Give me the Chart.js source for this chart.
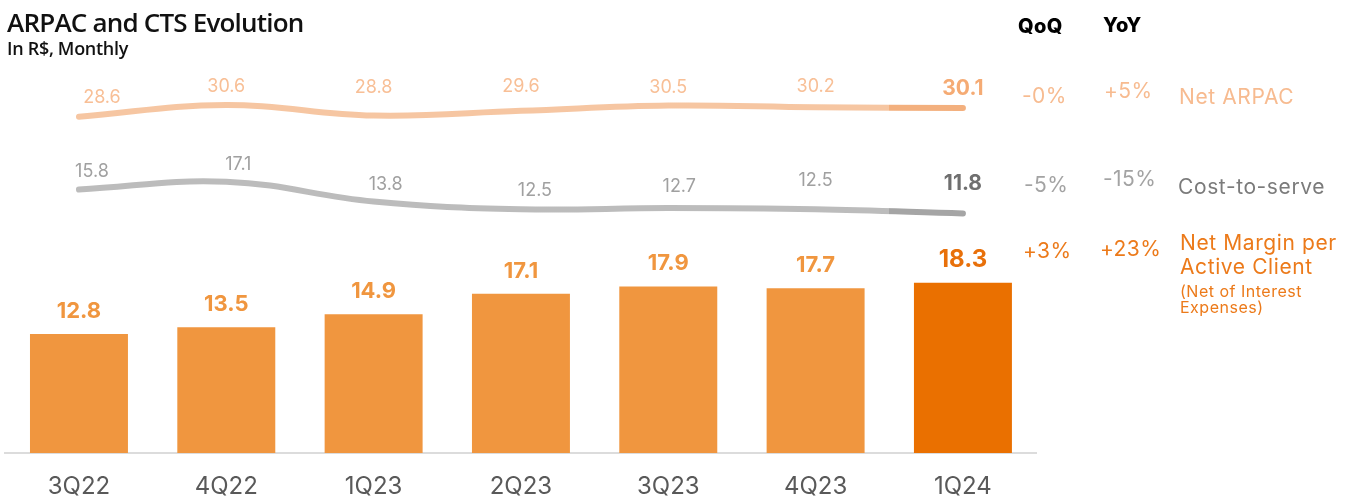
<!DOCTYPE html>
<html>
<head>
<meta charset="utf-8">
<title>ARPAC and CTS Evolution</title>
<script src="https://cdn.jsdelivr.net/npm/chart.js@4.4.1/dist/chart.umd.min.js"></script>
<style>
  body { margin: 0; background: #fff; }
  #wrap { position: relative; width: 1349px; height: 496px; overflow: hidden; font-family: Inter, "Noto Sans", sans-serif; }
  #wrap canvas { position: absolute; left: 0; top: 0; }
  .t { position: absolute; white-space: nowrap; line-height: 1; }
  .title { font-family: "Open Sans", sans-serif; font-weight: 600; font-size: 26px; color: #111; letter-spacing: -0.8px; }
  .sub { font-family: "Open Sans", sans-serif; font-weight: 600; font-size: 18px; color: #111; letter-spacing: -0.3px; }
  .head { font-weight: 800; font-size: 20px; color: #000; letter-spacing: 0.4px; }
  .pct { font-size: 21px; letter-spacing: 0.4px; }
  .name { font-size: 21px; letter-spacing: 0.6px; }
  .note { font-size: 16px; letter-spacing: 0.5px; }
  .arpac { color: #f7bb90; }
  .cts { color: #a3a3a3; }
  .ctsName { color: #7b7b7b; }
  .margin { color: #ec7a1a; }
</style>
</head>
<body>
<div id="wrap">
  <canvas id="evolutionChart"></canvas>
  <div class="t title" style="left:7px; top:9px;">ARPAC and CTS Evolution</div>
  <div class="t sub" style="left:7px; top:39px;">In R$, Monthly</div>

  <div class="t head" style="left:1018px; top:16px;">QoQ</div>
  <div class="t head" style="left:1103px; top:15px;">YoY</div>

  <div class="t pct arpac" style="left:1022px; top:85px;">-0%</div>
  <div class="t pct arpac" style="left:1104px; top:80px;">+5%</div>
  <div class="t name arpac" style="left:1179px; top:86px;">Net ARPAC</div>

  <div class="t pct cts" style="left:1024px; top:174px;">-5%</div>
  <div class="t pct cts" style="left:1103px; top:168px;">-15%</div>
  <div class="t name ctsName" style="left:1178px; top:176px;">Cost-to-serve</div>

  <div class="t pct margin" style="left:1023px; top:240px;">+3%</div>
  <div class="t pct margin" style="left:1100px; top:238px;">+23%</div>
  <div class="t name margin" style="left:1180px; top:232px;">Net Margin per</div>
  <div class="t name margin" style="left:1180px; top:256px;">Active Client</div>
  <div class="t note margin" style="left:1180px; top:283px;">(Net of Interest</div>
  <div class="t note margin" style="left:1180px; top:299px;">Expenses)</div>
</div>

<script>
const quarters = ["3Q22", "4Q22", "1Q23", "2Q23", "3Q23", "4Q23", "1Q24"];
const netMargin = [12.8, 13.5, 14.9, 17.1, 17.9, 17.7, 18.3];
const netArpac = [28.6, 30.6, 28.8, 29.6, 30.5, 30.2, 30.1];
const costToServe = [15.8, 17.1, 13.8, 12.5, 12.7, 12.5, 11.8];

// label nudges [dx, dy] relative to each line point
const arpacLabelShift = [[23, -14], [0, -13], [0, -23], [0, -19], [0, -13], [0, -15], [0, -13]];
const ctsLabelShift = [[13, -13], [12, -12], [12, -12], [14, -13], [11, -16], [0, -23], [0, -24]];

const last = quarters.length - 1;

// line gets a darker tint on the second half of the last segment
function splitColor(light, dark) {
  return function (c) {
    const chart = c.chart;
    if (!chart.chartArea) return light;
    const x = chart.scales.x;
    const mid = (x.getPixelForValue(last - 1) + x.getPixelForValue(last)) / 2;
    const g = chart.ctx.createLinearGradient(x.left, 0, x.right, 0);
    const f = (mid - x.left) / (x.right - x.left);
    g.addColorStop(0, light);
    g.addColorStop(f, light);
    g.addColorStop(f, dark);
    g.addColorStop(1, dark);
    return g;
  };
}

const valueLabels = {
  id: "valueLabels",
  afterDatasetsDraw(chart) {
    const ctx = chart.ctx;
    ctx.save();
    ctx.textAlign = "center";
    ctx.textBaseline = "alphabetic";

    chart.getDatasetMeta(2).data.forEach((bar, i) => {
      const isLast = i === last;
      ctx.font = (isLast ? "700 24px " : "700 22px ") + "Inter";
      ctx.fillStyle = isLast ? "#e8700a" : "#f0963f";
      ctx.fillText(netMargin[i].toFixed(1), bar.x, bar.y - 16);
    });

    chart.getDatasetMeta(0).data.forEach((pt, i) => {
      const isLast = i === last;
      ctx.font = isLast ? "700 21px Inter" : "400 18px Inter";
      ctx.fillStyle = isLast ? "#f5ab74" : "#f8bf96";
      ctx.fillText(netArpac[i].toFixed(1), pt.x + arpacLabelShift[i][0], pt.y + arpacLabelShift[i][1]);
    });

    chart.getDatasetMeta(1).data.forEach((pt, i) => {
      const isLast = i === last;
      ctx.font = isLast ? "700 21px Inter" : "400 18px Inter";
      ctx.fillStyle = isLast ? "#6f6f6f" : "#a0a0a0";
      ctx.fillText(costToServe[i].toFixed(1), pt.x + ctsLabelShift[i][0], pt.y + ctsLabelShift[i][1]);
    });
    ctx.restore();
  }
};

const chart = new Chart(document.getElementById("evolutionChart"), {
  type: "bar",
  data: {
    labels: quarters,
    datasets: [
      {
        type: "line",
        label: "Net ARPAC",
        data: netArpac,
        yAxisID: "yArpac",
        borderColor: splitColor("#f6c6a2", "#f3b07e"),
        borderWidth: 6,
        borderCapStyle: "round",
        tension: 0.4,
        pointRadius: 0,
        fill: false,
      },
      {
        type: "line",
        label: "Cost-to-serve",
        data: costToServe,
        yAxisID: "yCts",
        borderColor: splitColor("#bcbcbc", "#a5a5a5"),
        borderWidth: 6,
        borderCapStyle: "round",
        tension: 0.4,
        pointRadius: 0,
        fill: false,
      },
      {
        label: "Net Margin per Active Client",
        data: netMargin,
        yAxisID: "y",
        backgroundColor: quarters.map((q, i) => (i === last ? "#ea7000" : "#f0963f")),
        barPercentage: 0.665,
        categoryPercentage: 1,
      },
    ],
  },
  options: {
    responsive: true,
    maintainAspectRatio: false,
    animation: false,
    layout: { padding: { top: 40, left: 5.3, right: 312.4, bottom: 0 } },
    plugins: {
      legend: { display: false },
      tooltip: { enabled: false },
    },
    scales: {
      x: {
        offset: true,
        grid: { display: false, drawTicks: false },
        border: { display: true, color: "#dcdcdc", width: 2 },
        ticks: {
          color: "#595959",
          font: { family: "Inter", size: 24 },
          padding: 19,
        },
        afterFit(scale) {
          scale.height = 43;
        },
      },
      y: { display: false, min: 0, max: 44.38 },
      yArpac: { display: false, min: -28.89, max: 41.71 },
      yCts: { display: false, min: -28.12, max: 40.72 },
    },
  },
  plugins: [valueLabels],
});
</script>
</body>
</html>
